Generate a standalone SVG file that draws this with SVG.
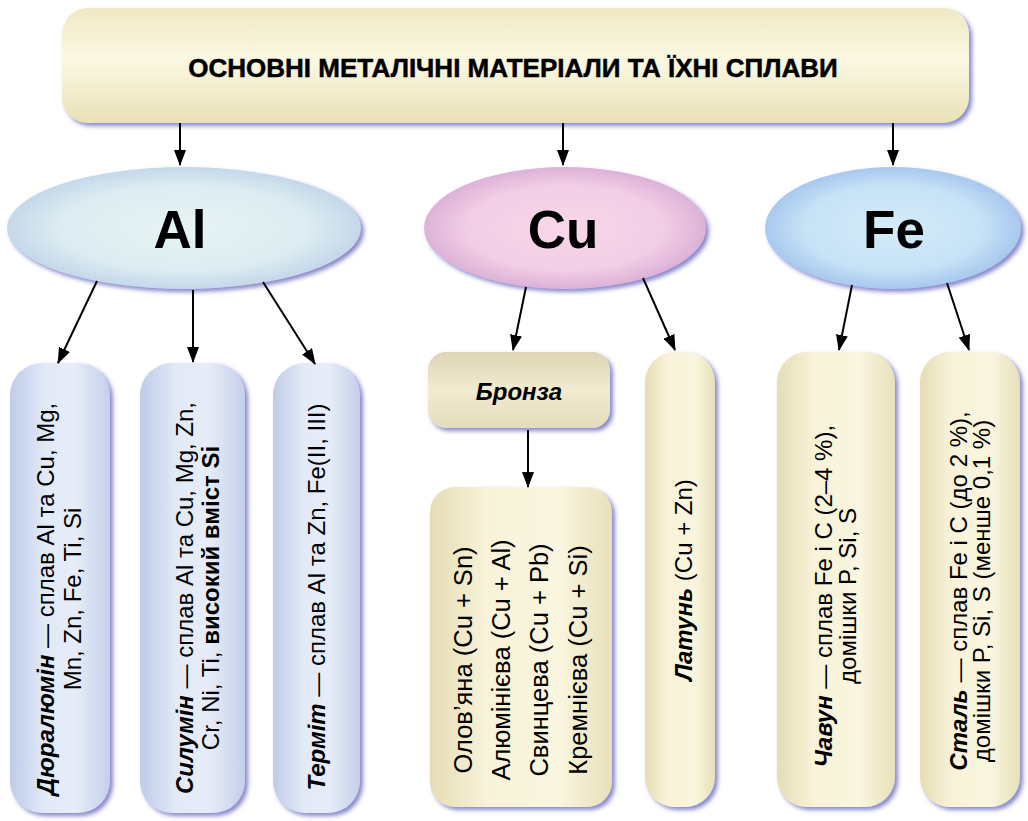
<svg xmlns="http://www.w3.org/2000/svg" width="1028" height="821" viewBox="0 0 1028 821">
<defs>
<style>
text{font-family:"Liberation Sans",Arial,sans-serif;fill:#000}
.title{font-size:26px;font-weight:bold;stroke:#000;stroke-width:0.5}
.sym{font-size:53px;font-weight:bold}
.bt{font-size:24px}
.bl{font-size:25.5px}
.bi{font-weight:bold;font-style:italic}
.conn line{stroke:#000;stroke-width:2;marker-end:url(#ah)}
</style>
<marker id="ah" markerUnits="userSpaceOnUse" markerWidth="16" markerHeight="12" refX="15" refY="6" orient="auto">
<path d="M0,0 L16,6 L0,12 z" fill="#000"/>
</marker>
<filter id="sh" x="-10%" y="-10%" width="125%" height="125%">
<feDropShadow dx="3" dy="3" stdDeviation="2" flood-color="#7474c4" flood-opacity="0.85"/>
</filter>
<linearGradient id="gTitle" x1="0" y1="0" x2="0" y2="1">
<stop offset="0" stop-color="#efe9c4"/>
<stop offset="0.45" stop-color="#fbf8e2"/>
<stop offset="1" stop-color="#e9e1b6"/>
</linearGradient>
<linearGradient id="gYel" x1="0" y1="0" x2="1" y2="0">
<stop offset="0" stop-color="#e6ddb4"/>
<stop offset="0.3" stop-color="#f7f2d8"/>
<stop offset="0.7" stop-color="#faf6df"/>
<stop offset="1" stop-color="#e8e0ba"/>
</linearGradient>
<linearGradient id="gBron" x1="0" y1="0" x2="0" y2="1">
<stop offset="0" stop-color="#ddd5b4"/>
<stop offset="0.5" stop-color="#f1ebd0"/>
<stop offset="1" stop-color="#e4dcbb"/>
</linearGradient>
<linearGradient id="gBlue" x1="0" y1="0" x2="1" y2="0">
<stop offset="0" stop-color="#bfcbe8"/>
<stop offset="0.35" stop-color="#e2eaf7"/>
<stop offset="0.65" stop-color="#e6edf8"/>
<stop offset="1" stop-color="#c4cfea"/>
</linearGradient>
<radialGradient id="gAl" cx="0.5" cy="0.5" r="0.5">
<stop offset="0" stop-color="#e8f4f4"/>
<stop offset="0.7" stop-color="#dcecf1"/>
<stop offset="1" stop-color="#c4d8ea"/>
</radialGradient>
<radialGradient id="gCu" cx="0.5" cy="0.5" r="0.5">
<stop offset="0" stop-color="#f8d8ea"/>
<stop offset="0.7" stop-color="#f2cde4"/>
<stop offset="1" stop-color="#dcb2d8"/>
</radialGradient>
<radialGradient id="gFe" cx="0.5" cy="0.5" r="0.5">
<stop offset="0" stop-color="#d4ecfa"/>
<stop offset="0.7" stop-color="#c6e2f6"/>
<stop offset="1" stop-color="#a8c8ee"/>
</radialGradient>
</defs>
<rect width="1028" height="821" fill="#fff"/>

<g id="title">
<rect x="62" y="8" width="907" height="115" rx="26" fill="url(#gTitle)" filter="url(#sh)"/>
<text class="title" x="513" y="77" text-anchor="middle">ОСНОВНІ МЕТАЛІЧНІ МАТЕРІАЛИ ТА ЇХНІ СПЛАВИ</text>
</g>

<g id="al">
<ellipse cx="184" cy="228" rx="177" ry="61" fill="url(#gAl)" filter="url(#sh)"/>
<text class="sym" x="180" y="248" text-anchor="middle">Al</text>
</g>
<g id="cu">
<ellipse cx="565" cy="228" rx="141" ry="61" fill="url(#gCu)" filter="url(#sh)"/>
<text class="sym" x="563" y="248" text-anchor="middle">Cu</text>
</g>
<g id="fe">
<ellipse cx="893" cy="228" rx="128" ry="61" fill="url(#gFe)" filter="url(#sh)"/>
<text class="sym" x="894" y="248" text-anchor="middle">Fe</text>
</g>

<g id="duralumin">
<rect x="10" y="363" width="100" height="450" rx="32" fill="url(#gBlue)" filter="url(#sh)"/>
<text class="bt" transform="translate(0,599) rotate(-90)" text-anchor="middle"><tspan x="0" y="54"><tspan class="bi">Дюралюмін</tspan> — сплав Al та Cu, Mg,</tspan><tspan x="0" y="81">Mn, Zn, Fe, Ti, Si</tspan></text>
</g>
<g id="silumin">
<rect x="140" y="363" width="105" height="450" rx="32" fill="url(#gBlue)" filter="url(#sh)"/>
<text class="bt" transform="translate(0,598) rotate(-90)" text-anchor="middle"><tspan x="0" y="193"><tspan class="bi">Силумін</tspan> — сплав Al та Cu, Mg, Zn,</tspan><tspan x="0" y="219">Cr, Ni, Ti, <tspan font-weight="bold">високий вміст Si</tspan></tspan></text>
</g>
<g id="termit">
<rect x="273" y="363" width="87" height="450" rx="32" fill="url(#gBlue)" filter="url(#sh)"/>
<text class="bt" transform="translate(0,597) rotate(-90)" text-anchor="middle"><tspan x="0" y="325"><tspan class="bi">Терміт</tspan> — сплав Al та Zn, Fe(II, III)</tspan></text>
</g>

<g id="bronza">
<rect x="428" y="352" width="182" height="76" rx="18" fill="url(#gBron)" filter="url(#sh)"/>
<text class="bt bi" x="519" y="400" font-size="22" text-anchor="middle">Бронза</text>
</g>
<g id="bronza-types">
<rect x="430" y="487" width="182" height="320" rx="25" fill="url(#gYel)" filter="url(#sh)"/>
<text class="bl" transform="translate(0,660) rotate(-90)" text-anchor="middle"><tspan x="0" y="472">Олов’яна (Cu + Sn)</tspan><tspan x="0" y="510">Алюмінієва (Cu + Al)</tspan><tspan x="0" y="548">Свинцева (Cu + Pb)</tspan><tspan x="0" y="587">Кремнієва (Cu + Si)</tspan></text>
</g>
<g id="latun">
<rect x="645" y="352" width="70" height="455" rx="30" fill="url(#gYel)" filter="url(#sh)"/>
<text class="bt" transform="translate(0,580) rotate(-90)" text-anchor="middle"><tspan x="0" y="692"><tspan class="bi">Латунь</tspan> (Cu + Zn)</tspan></text>
</g>

<g id="chavun">
<rect x="777" y="352" width="118" height="455" rx="30" fill="url(#gYel)" filter="url(#sh)"/>
<text class="bt" transform="translate(0,596) rotate(-90)" text-anchor="middle"><tspan x="0" y="832"><tspan class="bi">Чавун</tspan> — сплав Fe і C (2–4 %),</tspan><tspan x="0" y="856">домішки P, Si, S</tspan></text>
</g>
<g id="stal">
<rect x="920" y="352" width="100" height="455" rx="30" fill="url(#gYel)" filter="url(#sh)"/>
<text class="bt" transform="translate(0,591) rotate(-90)" text-anchor="middle"><tspan x="0" y="967"><tspan class="bi">Сталь</tspan> — сплав Fe і C (до 2 %),</tspan><tspan x="0" y="990">домішки P, Si, S (менше 0,1 %)</tspan></text>
</g>

<g id="connectors" class="conn">
<line x1="180" y1="123" x2="180" y2="165"/>
<line x1="563" y1="123" x2="563" y2="165"/>
<line x1="893" y1="123" x2="893" y2="165"/>
<line x1="97" y1="281" x2="58" y2="363"/>
<line x1="193" y1="290" x2="193" y2="362"/>
<line x1="263" y1="282" x2="315" y2="364"/>
<line x1="526" y1="287" x2="513" y2="350"/>
<line x1="643" y1="278" x2="675" y2="350"/>
<line x1="528" y1="430" x2="528" y2="487"/>
<line x1="852" y1="285" x2="839" y2="350"/>
<line x1="947" y1="283" x2="969" y2="350"/>
</g>
</svg>
